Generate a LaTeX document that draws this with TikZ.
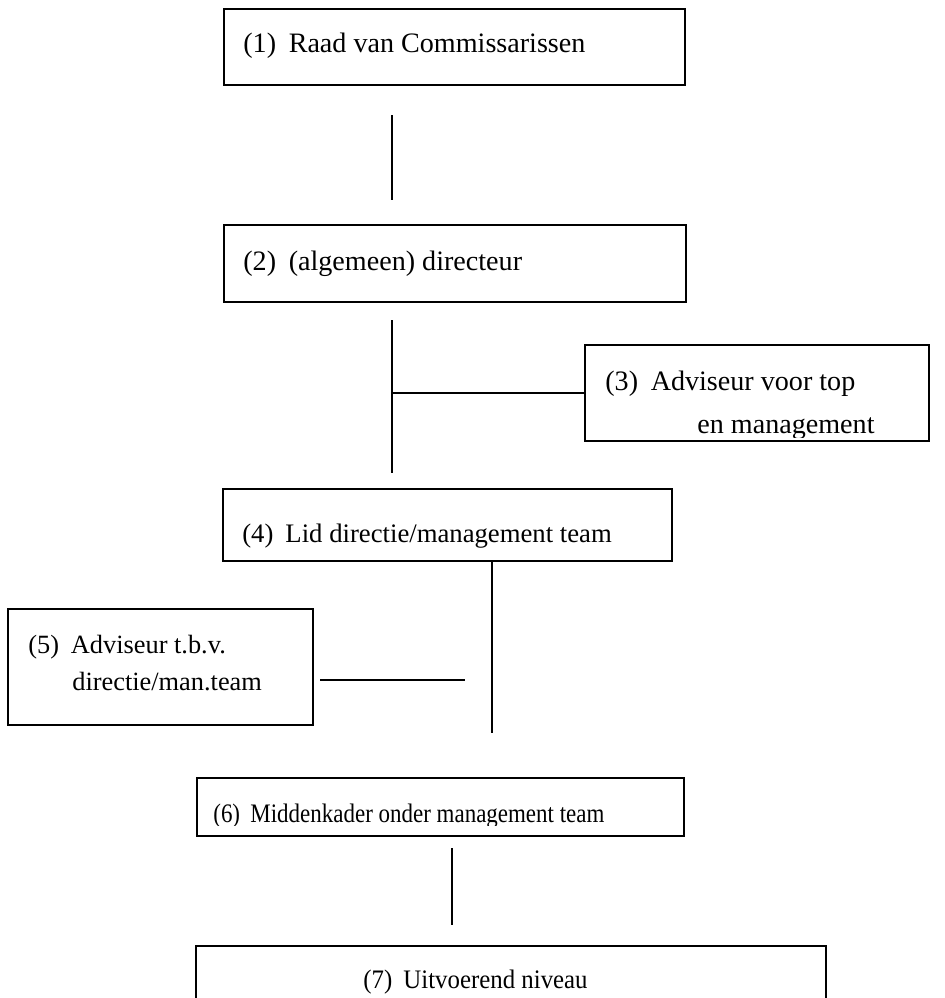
\documentclass[tikz,border=0pt]{standalone}
\usepackage{fontspec}
\setmainfont{Liberation Serif}
\usetikzlibrary{positioning}
\tikzset{
	orgbox/.style={rectangle, draw, line width=1.1pt, inner sep=0pt, anchor=north west},
	orglabel/.style={anchor=base west, inner sep=0pt, font=\fontsize{#1}{20}\selectfont},
	orglabel/.default=16,
	orgline/.style={line width=1.1pt}
}
\newcommand{\lvl}[1]{(#1)\hspace{0.45em}}

\begin{document}
\begin{tikzpicture}[x=0.02cm, y=-0.02cm]
		\clip (0,0) rectangle (945,998);
		
		% Kaders
		\node (box1) [orgbox, minimum width=9.22cm, minimum height=1.52cm] at (223,8) {};
		\node (box2) [orgbox, minimum width=9.24cm, minimum height=1.54cm] at (223,224) {};
		\node (box3) [orgbox, minimum width=6.88cm, minimum height=1.92cm] at (584,344) {};
		\node (box4) [orgbox, minimum width=8.98cm, minimum height=1.44cm] at (222,488) {};
		\node (box5) [orgbox, minimum width=6.10cm, minimum height=2.32cm] at (7,608) {};
		\node (box6) [orgbox, minimum width=9.74cm, minimum height=1.16cm] at (196,777) {};
		\node (box7) [orgbox, minimum width=12.60cm, minimum height=1.80cm] at (195,945) {};
		
		% Teksten
		\node (lbl1) [orglabel] at (243,52) {\lvl{1}Raad van Commissarissen};
		\node (lbl2) [orglabel] at (243,270) {\lvl{2}(algemeen) directeur};
		\node (lbl3a) [orglabel] at (605,390) {\lvl{3}Adviseur voor top};
		\begin{scope}
			\clip (0,400) rectangle (945,437);
			\node (lbl3b) [orglabel] at (697,433) {en management};
		\end{scope}
		\node (lbl4) [orglabel=15.2] at (242,542) {\lvl{4}Lid directie/management team};
		\node (lbl5a) [orglabel=15] at (28,653) {\lvl{5}Adviseur t.b.v.};
		\node (lbl5b) [orglabel=15] at (72,690) {directie/man.team};
		\begin{scope}
			\clip (0,780) rectangle (945,825);
			\node (lbl6) [orglabel=15.2] at (213,822) {\scalebox{0.86}[1]{\lvl{6}Middenkader onder management team}};
		\end{scope}
		\node (lbl7) [orglabel=15.2] at (363,988) {\scalebox{0.93}[1]{\lvl{7}Uitvoerend niveau}};
		
		% Verbindingslijnen
		\coordinate (l1a) at (392,115);
		\coordinate (l1b) at (392,200);
		\coordinate (l2a) at (392,320);
		\coordinate (l2b) at (392,473);
		\coordinate (l3a) at (492,560);
		\coordinate (l3b) at (492,733);
		\coordinate (l4a) at (320,680);
		\coordinate (l4b) at (465,680);
		\coordinate (l5a) at (452,848);
		\coordinate (l5b) at (452,925);
		\draw [orgline] (l1a) -- (l1b);
		\draw [orgline] (l2a) -- (l2b);
		\draw [orgline] (l2a |- box3.west) -- (box3.west);
		\draw [orgline] (l3a) -- (l3b);
		\draw [orgline] (l4a) -- (l4b);
		\draw [orgline] (l5a) -- (l5b);
	\end{tikzpicture}
\end{document}
